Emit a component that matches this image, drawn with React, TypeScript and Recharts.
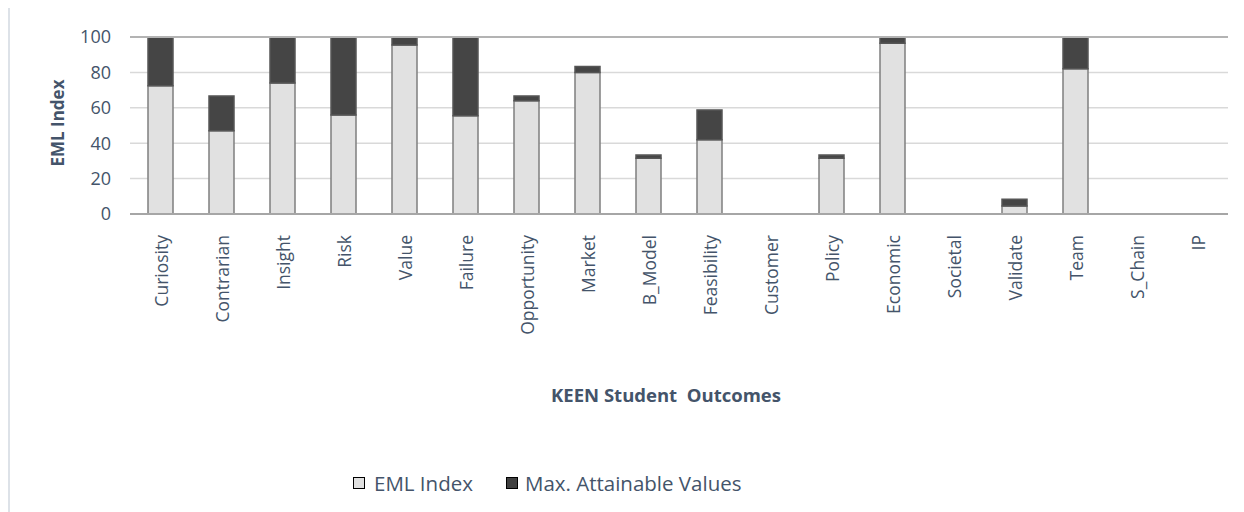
import React from 'react';
import { BarChart, Bar, XAxis, YAxis, CartesianGrid, Legend, ReferenceLine } from 'recharts';

const categories = ['Curiosity', 'Contrarian', 'Insight', 'Risk', 'Value', 'Failure', 'Opportunity', 'Market', 'B_Model', 'Feasibility', 'Customer', 'Policy', 'Economic', 'Societal', 'Validate', 'Team', 'S_Chain', 'IP'];
const emlIndex = [72.5, 47, 74, 56, 95.5, 55.5, 64, 80, 31.5, 42, 0, 31.5, 96.5, 0, 4.5, 82, 0, 0];
const maxAttainable = [100, 66.7, 100, 100, 100, 100, 66.7, 83.3, 33.3, 58.8, 0, 33.3, 100, 0, 8.3, 100, 0, 0];
const yTicks = [0, 20, 40, 60, 80, 100];

const data = categories.map((name, i) => ({
  name,
  eml: emlIndex[i],
  rest: Math.max(0, maxAttainable[i] - emlIndex[i]),
}));

const FONT = '"Open Sans", sans-serif';
const TEXT = '#44546a';

const XTick = (props: any) => {
  const { x, y, payload } = props;
  return (
    <text
      x={x}
      y={y + 13}
      transform={`rotate(-90 ${x} ${y + 13})`}
      textAnchor="end"
      dy="0.4em"
      fill={TEXT}
      fontSize={17.5}
      fontFamily={FONT}
    >
      {payload.value}
    </text>
  );
};

const XTitle = (props: any) => {
  const { viewBox } = props;
  return (
    <text
      x={viewBox.x + viewBox.width / 2 - 13}
      y={viewBox.y + 183}
      textAnchor="middle"
      dominantBaseline="middle"
      fill={TEXT}
      fontSize={18.5}
      fontWeight="bold"
      fontFamily={FONT}
      style={{ whiteSpace: 'pre' }}
    >
      KEEN Student  Outcomes
    </text>
  );
};

const YTitle = () => (
  <text
    x={49}
    y={115}
    transform="rotate(-90 49 115)"
    textAnchor="middle"
    dominantBaseline="middle"
    fill={TEXT}
    fontSize={17}
    fontWeight="bold"
    fontFamily={FONT}
  >
    EML Index
  </text>
);

const LegendContent = () => (
  <div style={{ height: 30, display: 'flex', justifyContent: 'flex-start', alignItems: 'center', fontFamily: FONT, fontSize: 20.5, color: TEXT, paddingLeft: 343 }}>
    <span style={{ display: 'inline-flex', alignItems: 'center', marginRight: 33 }}>
      <span style={{ width: 10, height: 10, background: '#e0e0e0', border: '1.5px solid #000', marginRight: 9, display: 'inline-block' }} />
      EML Index
    </span>
    <span style={{ display: 'inline-flex', alignItems: 'center' }}>
      <span style={{ width: 10, height: 10, background: '#404040', border: '1.5px solid #000', marginRight: 7, display: 'inline-block' }} />
      Max. Attainable Values
    </span>
  </div>
);

export default function App() {
  return (
    <div style={{ width: 1234, height: 504, borderLeft: '2px solid #dde2e8', background: '#fff' }}>
      <BarChart width={1234} height={504} data={data} margin={{ top: 29, right: 16, left: 0, bottom: 14 }}>
        <CartesianGrid vertical={false} stroke="#d9d9d9" strokeWidth={1.5} />
        <XAxis
          dataKey="name"
          interval={0}
          height={254}
          tick={<XTick />}
          tickLine={false}
          axisLine={{ stroke: '#a6a6a6', strokeWidth: 2 }}
          label={<XTitle />}
        />
        <YAxis
          width={120}
          domain={[0, 100]}
          ticks={yTicks}
          tickLine={false}
          axisLine={false}
          tickSize={0}
          tickMargin={19}
          tick={{ fill: TEXT, fontSize: 18, fontFamily: FONT }}
        />
        <ReferenceLine y={100} stroke="#b3b3b3" strokeWidth={2} />
        <Legend verticalAlign="bottom" content={<LegendContent />} />
        <Bar dataKey="eml" name="EML Index" stackId="a" barSize={25} fill="#e1e1e1" stroke="#7f7f7f" strokeWidth={1.5} isAnimationActive={false} />
        <Bar dataKey="rest" name="Max. Attainable Values" stackId="a" barSize={25} fill="#454545" stroke="#555" strokeWidth={1.5} isAnimationActive={false} />
        <YTitle />
      </BarChart>
    </div>
  );
}
